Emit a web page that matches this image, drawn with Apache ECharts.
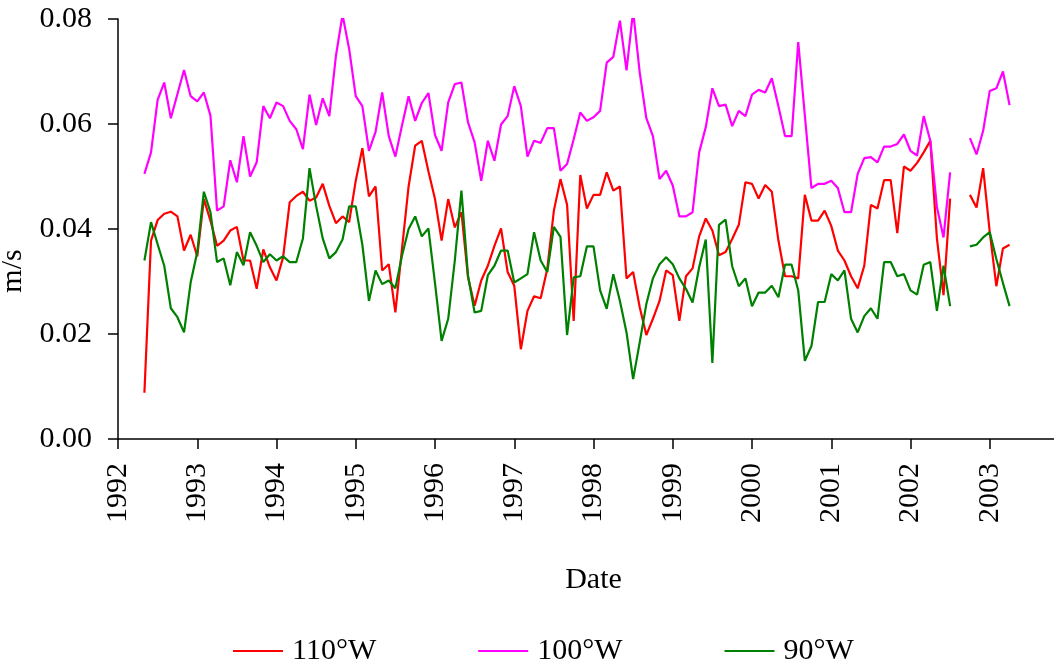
<!DOCTYPE html>
<html>
<head>
    <meta charset="UTF-8">
    <title>m/s</title>
    <script src="https://cdn.jsdelivr.net/npm/echarts@6.0.0/dist/echarts.min.js"></script>
    <style>
        html, body { margin: 0; padding: 0; background: #fff; }
        #chart1 { width: 1054px; height: 667px; }
    </style>
</head>
<body>
    <div id="chart1"></div>
    <script>
    // monthly samples, first one is May 1992; two months missing in late 2002
    var startYear = 1992;
    var startMonth = 5;
    var yearTicks = [1992, 1993, 1994, 1995, 1996, 1997, 1998, 1999, 2000, 2001, 2002, 2003];
    var seriesNames = ['110°W', '100°W', '90°W'];

    var w110 = [
        0.0088, 0.0378, 0.0417, 0.0429, 0.0433, 0.0424, 0.0359, 0.0389, 0.0348, 0.0457, 0.0416, 0.0368,
        0.0378, 0.0397, 0.0404, 0.0340, 0.0340, 0.0286, 0.0361, 0.0327, 0.0302, 0.0346, 0.0451, 0.0463,
        0.0471, 0.0454, 0.0460, 0.0486, 0.0444, 0.0411, 0.0424, 0.0413, 0.0492, 0.0554, 0.0462, 0.0481,
        0.0321, 0.0333, 0.0241, 0.0362, 0.0481, 0.0559, 0.0568, 0.0510, 0.0457, 0.0378, 0.0457, 0.0403,
        0.0432, 0.0308, 0.0254, 0.0302, 0.0330, 0.0368, 0.0401, 0.0318, 0.0292, 0.0171, 0.0244, 0.0272,
        0.0268, 0.0324, 0.0435, 0.0495, 0.0446, 0.0225, 0.0503, 0.0439, 0.0465, 0.0465, 0.0508, 0.0473,
        0.0481, 0.0306, 0.0318, 0.0251, 0.0198, 0.0229, 0.0263, 0.0321, 0.0312, 0.0225, 0.0310, 0.0325,
        0.0386, 0.0420, 0.0397, 0.0350, 0.0356, 0.0381, 0.0408, 0.0489, 0.0486, 0.0458, 0.0484, 0.0471,
        0.0378, 0.0310, 0.0310, 0.0306, 0.0465, 0.0416, 0.0416, 0.0435, 0.0406, 0.0359, 0.0340, 0.0310,
        0.0287, 0.0330, 0.0446, 0.0439, 0.0493, 0.0493, 0.0392, 0.0519, 0.0511, 0.0526, 0.0546, 0.0568,
        0.0382, 0.0274, 0.0458, null, null, 0.0465, 0.0441, 0.0516, 0.0394, 0.0291, 0.0363, 0.0370
    ];
    var w100 = [
        0.0505, 0.0546, 0.0646, 0.0679, 0.0611, 0.0657, 0.0703, 0.0653, 0.0643, 0.0660, 0.0616, 0.0435,
        0.0443, 0.0531, 0.0489, 0.0577, 0.0500, 0.0527, 0.0634, 0.0611, 0.0641, 0.0634, 0.0606, 0.0590,
        0.0552, 0.0656, 0.0598, 0.0649, 0.0615, 0.0730, 0.0808, 0.0743, 0.0653, 0.0634, 0.0549, 0.0585,
        0.0660, 0.0577, 0.0538, 0.0597, 0.0653, 0.0606, 0.0640, 0.0659, 0.0579, 0.0549, 0.0641, 0.0676,
        0.0679, 0.0603, 0.0565, 0.0492, 0.0568, 0.0530, 0.0599, 0.0615, 0.0672, 0.0634, 0.0538, 0.0568,
        0.0564, 0.0592, 0.0592, 0.0511, 0.0524, 0.0571, 0.0622, 0.0606, 0.0613, 0.0625, 0.0717, 0.0728,
        0.0797, 0.0702, 0.0815, 0.0698, 0.0611, 0.0577, 0.0495, 0.0511, 0.0483, 0.0424, 0.0424, 0.0432,
        0.0546, 0.0594, 0.0668, 0.0634, 0.0637, 0.0596, 0.0625, 0.0615, 0.0656, 0.0665, 0.0660, 0.0687,
        0.0634, 0.0577, 0.0577, 0.0756, 0.0617, 0.0478, 0.0486, 0.0486, 0.0492, 0.0478, 0.0432, 0.0432,
        0.0505, 0.0535, 0.0537, 0.0527, 0.0557, 0.0557, 0.0562, 0.0580, 0.0549, 0.0540, 0.0615, 0.0568,
        0.0442, 0.0384, 0.0508, null, null, 0.0573, 0.0542, 0.0587, 0.0663, 0.0668, 0.0700, 0.0636
    ];
    var w90 = [
        0.0340, 0.0413, 0.0371, 0.0330, 0.0249, 0.0232, 0.0203, 0.0298, 0.0356, 0.0471, 0.0432, 0.0337,
        0.0344, 0.0293, 0.0356, 0.0331, 0.0394, 0.0368, 0.0337, 0.0352, 0.0340, 0.0348, 0.0337, 0.0337,
        0.0382, 0.0516, 0.0444, 0.0382, 0.0344, 0.0356, 0.0380, 0.0443, 0.0443, 0.0370, 0.0263, 0.0321,
        0.0295, 0.0302, 0.0287, 0.0349, 0.0400, 0.0424, 0.0386, 0.0401, 0.0297, 0.0187, 0.0229, 0.0340,
        0.0473, 0.0311, 0.0241, 0.0244, 0.0312, 0.0330, 0.0359, 0.0359, 0.0298, 0.0306, 0.0314, 0.0394,
        0.0340, 0.0318, 0.0404, 0.0385, 0.0198, 0.0308, 0.0310, 0.0367, 0.0367, 0.0283, 0.0248, 0.0314,
        0.0263, 0.0203, 0.0114, 0.0184, 0.0257, 0.0306, 0.0333, 0.0346, 0.0333, 0.0306, 0.0286, 0.0260,
        0.0327, 0.0380, 0.0145, 0.0408, 0.0418, 0.0329, 0.0291, 0.0306, 0.0253, 0.0279, 0.0279, 0.0292,
        0.0270, 0.0332, 0.0332, 0.0283, 0.0149, 0.0177, 0.0261, 0.0261, 0.0314, 0.0302, 0.0321, 0.0229,
        0.0203, 0.0234, 0.0249, 0.0229, 0.0337, 0.0337, 0.0310, 0.0314, 0.0283, 0.0275, 0.0332, 0.0337,
        0.0244, 0.0330, 0.0253, null, null, 0.0367, 0.0370, 0.0384, 0.0394, 0.0343, 0.0297, 0.0253
    ];

    var font = 'Liberation Serif';

    // pair each value with its date as a decimal year
    function toPoints(values) {
        return values.map(function (v, i) {
            return [startYear + (startMonth - 1 + i) / 12, v];
        });
    }

    var myChart = echarts.init(document.getElementById('chart1'));
    var option = {
        animation: false,
        backgroundColor: '#fff',
        color: ['#ff0000', '#ff00ff', '#008000'],
        grid: { left: 118, right: -15, top: 19, bottom: 228, outerBoundsMode: 'none' },
        legend: {
            left: 233,
            top: 636,
            icon: 'rect',
            itemWidth: 50,
            itemHeight: 2,
            itemGap: 102,
            padding: 0,
            data: seriesNames,
            textStyle: { fontFamily: font, fontSize: 30, color: '#000', padding: [0, 0, 0, 4] }
        },
        xAxis: {
            type: 'value',
            min: 1992,
            max: 2004,
            interval: 1,
            name: 'Date',
            nameLocation: 'middle',
            nameGap: 126,
            nameTextStyle: { fontFamily: font, fontSize: 30, color: '#000' },
            splitLine: { show: false },
            axisLine: { lineStyle: { color: '#000', width: 1.5 } },
            axisTick: { length: 10, lineStyle: { color: '#000', width: 1.5 } },
            axisLabel: {
                rotate: 90,
                margin: 24,
                fontFamily: font,
                fontSize: 30,
                color: '#000',
                formatter: function (v) { return yearTicks.indexOf(v) >= 0 ? String(v) : ''; }
            }
        },
        yAxis: {
            type: 'value',
            min: 0,
            max: 0.08,
            interval: 0.02,
            name: 'm/s',
            nameLocation: 'middle',
            nameRotate: 90,
            nameGap: 85,
            nameTextStyle: { fontFamily: font, fontSize: 30, color: '#000', padding: [0, 84, 0, 0] },
            splitLine: { show: false },
            axisLine: { show: true, lineStyle: { color: '#000', width: 1.5 } },
            axisTick: { show: true, length: 10, lineStyle: { color: '#000', width: 1.5 } },
            axisLabel: {
                margin: 26,
                fontFamily: font,
                fontSize: 30,
                color: '#000',
                formatter: function (v) { return v.toFixed(2); }
            }
        },
        series: [
            { name: seriesNames[0], type: 'line', symbol: 'none', lineStyle: { width: 2.2 }, data: toPoints(w110) },
            { name: seriesNames[1], type: 'line', symbol: 'none', lineStyle: { width: 2.2 }, data: toPoints(w100) },
            { name: seriesNames[2], type: 'line', symbol: 'none', lineStyle: { width: 2.2 }, data: toPoints(w90) }
        ]
    };
    myChart.setOption(option);
    </script>
</body>
</html>
